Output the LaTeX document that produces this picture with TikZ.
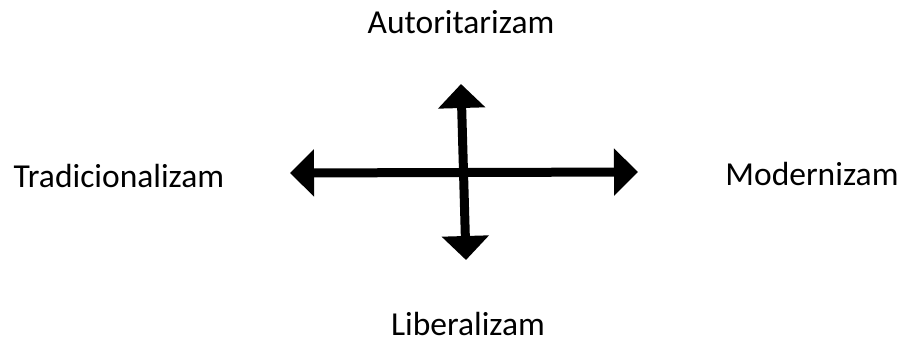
\documentclass[tikz,border=0pt]{standalone}
\usepackage{fontspec}
\setmainfont{Carlito}
\usetikzlibrary{arrows.meta}
\begin{document}
\begin{tikzpicture}[x=1pt,y=1pt,
  lbl/.style={font=\fontsize{33.5}{36}\selectfont, inner sep=0pt, anchor=base},
  axis/.style={line width=9pt, {Triangle[length=24pt,width=46pt]}-{Triangle[length=24pt,width=46pt]}}]
\useasboundingbox (0,0) rectangle (906,341);
\fill[white] (0,0) rectangle (906,341);
\node[lbl] (aut) at (461,307) {Autoritarizam};
\node[lbl] (lib) at (468,6) {Liberalizam};
\node[lbl] (tra) at (119,154) {Tradicionalizam};
\node[lbl] (mod) at (812,156) {Modernizam};
\coordinate (L) at (290,168);
\coordinate (R) at (638,169);
\coordinate (T) at (461,257);
\coordinate (B) at (466,81);
\draw[axis] (L) -- (R);
\draw[axis] (B) -- (T);
\end{tikzpicture}
\end{document}
